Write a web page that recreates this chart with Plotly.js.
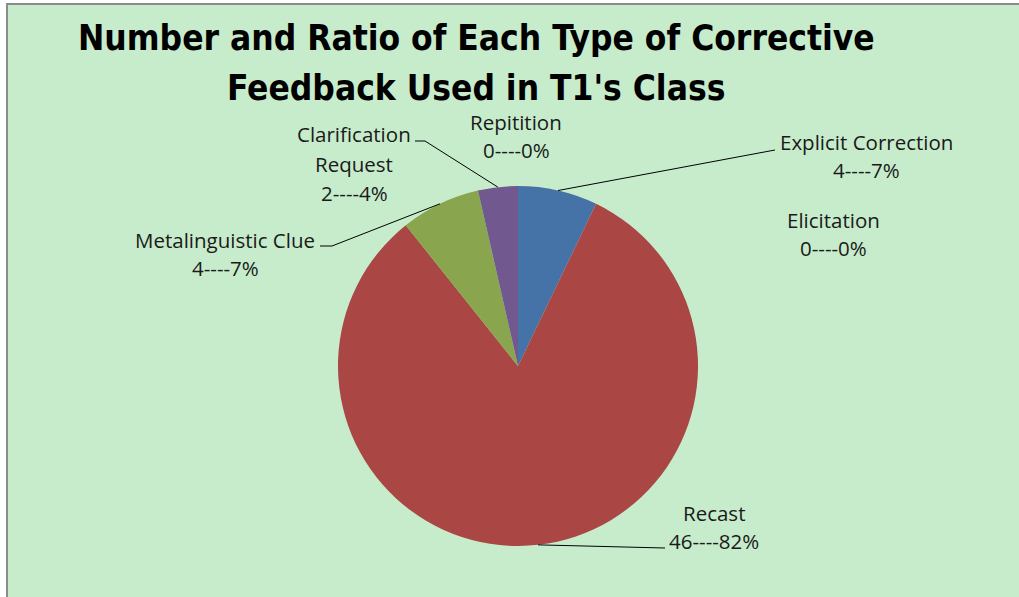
<!DOCTYPE html>
<html><head><meta charset="utf-8">
<script src="https://cdn.plot.ly/plotly-3.0.1.min.js"></script>
<style>html,body{margin:0;padding:0;background:#fff;}#chart{width:1019px;height:597px;}</style>
</head><body><div id="chart"></div>
<script>
// ---- data ----
const categories = ["Explicit Correction", "Elicitation", "Recast", "Metalinguistic Clue", "Clarification Request", "Repitition"];
const labelLines = [["Explicit Correction"], ["Elicitation"], ["Recast"], ["Metalinguistic Clue"], ["Clarification", "Request"], ["Repitition"]];
const counts = [4, 0, 46, 4, 2, 0];
const percents = [7, 0, 82, 7, 4, 0];
const colors = ["#4572A7", "#4572A7", "#AA4643", "#89A54E", "#71588F", "#4BACC6"];
const titleLines = ["Number and Ratio of Each Type of Corrective", "Feedback Used in T1's Class"];

// ---- layout config (pixels) ----
const W = 1019, H = 597;
const CX = 518, CY = 366, R = 180;
const px = x => x / W, py = y => 1 - y / H;
const labelPos = [
  {x: 866, y: [142, 170], elbow: [775, 150]},
  {x: 833, y: [220, 248], elbow: null},
  {x: 714, y: [513, 541], elbow: [665, 548]},
  {x: 225, y: [240, 268], elbow: [332, 246], tail: [320, 246]},
  {x: 354, y: [134, 164, 193], elbow: [425, 141], tail: [415, 141]},
  {x: 516, y: [122, 150], elbow: null}
];
const titleY = [38, 88], titleX = 476;

const total = counts.reduce((a, b) => a + b, 0);
const annotations = [];
const shapes = [];

shapes.push({type: 'rect', xref: 'paper', yref: 'paper', x0: px(8), x1: 1, y0: 0, y1: py(5), fillcolor: '#C7ECCB', line: {width: 0}, layer: 'below'});
shapes.push({type: 'line', xref: 'paper', yref: 'paper', x0: px(6), x1: 1, y0: py(4), y1: py(4), line: {color: '#8C8C8C', width: 2}});
shapes.push({type: 'line', xref: 'paper', yref: 'paper', x0: px(7), x1: px(7), y0: 0, y1: py(4), line: {color: '#8C8C8C', width: 2}});

const lblFont = {family: 'Open Sans, sans-serif', size: 20.5, color: '#1a1a1a'};
let cum = 0;
categories.forEach((c, i) => {
  const mid = (cum + counts[i] / 2) / total * 2 * Math.PI;
  cum += counts[i];
  const lp = labelPos[i];
  const lines = labelLines[i].concat([counts[i] + '----' + percents[i] + '%']);
  lines.forEach((t, k) => {
    annotations.push({xref: 'paper', yref: 'paper', x: px(lp.x), y: py(lp.y[k]), xanchor: 'center', yanchor: 'middle',
      text: t, showarrow: false, font: lblFont});
  });
  if (lp.elbow) {
    const ex = CX + R * Math.sin(mid), ey = CY - R * Math.cos(mid);
    shapes.push({type: 'line', xref: 'paper', yref: 'paper', x0: px(ex), y0: py(ey), x1: px(lp.elbow[0]), y1: py(lp.elbow[1]), line: {color: '#000', width: 1}});
    if (lp.tail) {
      shapes.push({type: 'line', xref: 'paper', yref: 'paper', x0: px(lp.elbow[0]), y0: py(lp.elbow[1]), x1: px(lp.tail[0]), y1: py(lp.tail[1]), line: {color: '#000', width: 1}});
    }
  }
});

titleLines.forEach((t, k) => {
  annotations.push({xref: 'paper', yref: 'paper', x: px(titleX), y: py(titleY[k]), xanchor: 'center', yanchor: 'middle',
    text: '<b>' + t + '</b>', showarrow: false,
    font: {family: 'DejaVu Sans Condensed, sans-serif', size: 35, color: '#000'}});
});

const trace = {
  type: 'pie', labels: categories, values: counts, sort: false, direction: 'clockwise', rotation: 0,
  marker: {colors: colors, line: {width: 0}},
  textinfo: 'none', hoverinfo: 'label+value+percent', showlegend: false,
  domain: {x: [px(CX - R), px(CX + R)], y: [py(CY + R), py(CY - R)]}
};

Plotly.newPlot('chart', [trace], {
  width: W, height: H, margin: {l: 0, r: 0, t: 0, b: 0},
  paper_bgcolor: '#ffffff', showlegend: false,
  shapes: shapes, annotations: annotations
}, {displayModeBar: false, staticPlot: true});
</script></body></html>
